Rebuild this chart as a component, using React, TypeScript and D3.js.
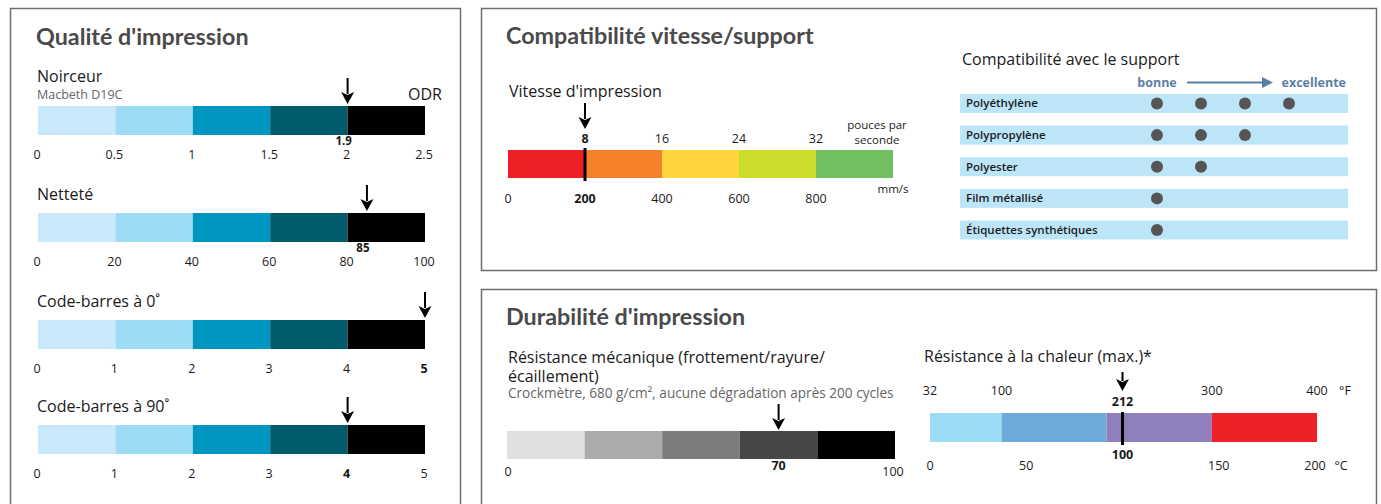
import React from "react";
import * as d3 from "d3";

// ---------- DATA ----------
const qualityMetrics = ["Noirceur", "Netteté", "Code-barres à 0˚", "Code-barres à 90˚"];
const qualityMax = [2.5, 100, 5, 5];
const qualityTicks = [
  [0, 0.5, 1, 1.5, 2, 2.5],
  [0, 20, 40, 60, 80, 100],
  [0, 1, 2, 3, 4, 5],
  [0, 1, 2, 3, 4, 5],
];
const qualityMarkerPos = [2, 85, 5, 4];
const qualityMarkerLabel = ["1.9", "85", "5", "4"];
const qualityColors = ["#c7e9f9", "#9edcf6", "#0096c1", "#025a6d", "#000000"];

const speedBreaksMm = [0, 200, 400, 600, 800, 1000];
const speedColors = ["#ee1f26", "#f5812a", "#fed43e", "#cbdc2b", "#73bf63"];
const speedTicksMm = [0, 200, 400, 600, 800];
const speedTicksIps = [8, 16, 24, 32];
const speedMarkerMm = 200;

const mediaNames = ["Polyéthylène", "Polypropylène", "Polyester", "Film métallisé", "Étiquettes synthétiques"];
const mediaScores = [4, 3, 2, 1, 1];

const mechBreaks = [0, 20, 40, 60, 80, 100];
const mechColors = ["#e0e0e0", "#acacac", "#7c7c7c", "#474747", "#000000"];
const mechTicks = [0, 100];
const mechMarker = 70;

const heatBreaksF = [32, 100, 200, 300, 400];
const heatColors = ["#9ddcf6", "#70aad9", "#8f7fba", "#ee2028"];
const heatTicksF = [32, 100, 300, 400];
const heatTicksC = [0, 50, 150, 200];
const heatMarkerC = 100;
const heatMarkerF = 212;

// ---------- STYLE ----------
const FONT = "'Open Sans', sans-serif";
const TITLE_FONT = "Lato, 'Open Sans', sans-serif";
const TITLE_COLOR = "#4a4a4a";
const TEXT = "#1a1a1a";
const BORDER = "#6e6e6e";

function Arrow({ x, y1, y2, color = "#000", head = 12, w = 13 }: any) {
  return (
    <g>
      <line x1={x} x2={x} y1={y1} y2={y2 - head + 2} stroke={color} strokeWidth={2} />
      <path d={`M${x - w / 2},${y2 - head} L${x},${y2 - head + 3} L${x + w / 2},${y2 - head} L${x},${y2} Z`} fill={color} />
    </g>
  );
}

function QualityPanel() {
  const x0 = 38, x1 = 425;
  const barTops = [106, 213, 320, 425];
  const barH = 29;
  return (
    <g>
      <text x={36} y={45} fontFamily={TITLE_FONT} fontWeight={700} fontSize={23.3} fill={TITLE_COLOR}>
        Qualité d'impression
      </text>
      {qualityMetrics.map((name, i) => {
        const max = qualityMax[i];
        const sc = d3.scaleLinear().domain([0, max]).range([x0, x1]);
        const top = barTops[i];
        const step = max / 5;
        const segs = d3.range(5).map((k) => [k * step, (k + 1) * step]);
        const mx = sc(qualityMarkerPos[i]);
        const lbl = qualityMarkerLabel[i];
        const lblIsTick = qualityTicks[i].some((t) => String(t) === lbl);
        return (
          <g key={name}>
            <text x={37} y={top - 13 - (i === 0 ? 11 : 0)} fontFamily={FONT} fontSize={16} fill={TEXT}>
              {name}
            </text>
            {i === 0 && (
              <>
                <text x={37} y={top - 7} fontFamily={FONT} fontSize={12.5} fill="#666">
                  Macbeth D19C
                </text>
                <text x={442} y={top - 6} textAnchor="end" fontFamily={FONT} fontSize={16} fill={TEXT}>
                  ODR
                </text>
              </>
            )}
            {segs.map((s, k) => (
              <rect key={k} x={sc(s[0])} y={top} width={sc(s[1]) - sc(s[0])} height={barH} fill={qualityColors[k]} />
            ))}
            <Arrow x={mx} y1={top - 28} y2={top - 2} />
            {!lblIsTick && (
              <text x={mx - 4} y={top + barH + 10} textAnchor="middle" fontFamily={FONT} fontWeight={700} fontSize={11.5} fill={TEXT}>
                {lbl}
              </text>
            )}
            {qualityTicks[i].map((t) => (
              <text
                key={t}
                x={sc(t) - 1}
                y={top + barH + 24}
                textAnchor="middle"
                fontFamily={FONT}
                fontSize={12.5}
                fontWeight={String(t) === lbl ? 700 : 400}
                fill={TEXT}
              >
                {t}
              </text>
            ))}
          </g>
        );
      })}
    </g>
  );
}

function SpeedPanel() {
  const sc = d3.scaleLinear().domain([0, 1000]).range([508, 893]);
  const top = 150, h = 28;
  const mx = sc(speedMarkerMm);
  return (
    <g>
      <text x={506} y={44} fontFamily={TITLE_FONT} fontWeight={700} fontSize={23.3} fill={TITLE_COLOR}>
        Compatibilité vitesse/support
      </text>
      <text x={509} y={97} fontFamily={FONT} fontSize={16} fill={TEXT}>
        Vitesse d'impression
      </text>
      {speedColors.map((c, k) => (
        <rect key={k} x={sc(speedBreaksMm[k])} y={top} width={sc(speedBreaksMm[k + 1]) - sc(speedBreaksMm[k])} height={h} fill={c} />
      ))}
      <line x1={mx} x2={mx} y1={top - 2} y2={top + h + 3} stroke="#000" strokeWidth={3} />
      <Arrow x={mx} y1={103} y2={129} />
      {speedTicksIps.map((t, k) => (
        <text key={t} x={sc(t * 25)} y={143} textAnchor="middle" fontFamily={FONT} fontSize={12.5} fontWeight={k === 0 ? 700 : 400} fill={TEXT}>
          {t}
        </text>
      ))}
      <text x={877} y={129} textAnchor="middle" fontFamily={FONT} fontSize={11.5} fill={TEXT}>pouces par</text>
      <text x={877} y={144} textAnchor="middle" fontFamily={FONT} fontSize={11.5} fill={TEXT}>seconde</text>
      {speedTicksMm.map((t) => (
        <text key={t} x={sc(t)} y={203} textAnchor="middle" fontFamily={FONT} fontSize={12.5} fontWeight={t === speedMarkerMm ? 700 : 400} fill={TEXT}>
          {t}
        </text>
      ))}
      <text x={893} y={193} textAnchor="middle" fontFamily={FONT} fontSize={11.5} fill={TEXT}>mm/s</text>
    </g>
  );
}

function MediaPanel() {
  const band = d3.scaleBand().domain(mediaNames).range([94, 239.5]).paddingInner(0.4).paddingOuter(0);
  const dotX = d3.scaleLinear().domain([1, 4]).range([1157, 1289]);
  const arrowColor = "#5b7fa3";
  return (
    <g>
      <text x={962} y={65} fontFamily={FONT} fontSize={16} fill={TEXT}>
        Compatibilité avec le support
      </text>
      <text x={1157} y={87} textAnchor="middle" fontFamily={FONT} fontWeight={700} fontSize={12.5} fill={arrowColor}>bonne</text>
      <line x1={1187} x2={1264} y1={82.5} y2={82.5} stroke={arrowColor} strokeWidth={2} />
      <path d="M1262,77 L1273,82.5 L1262,88 Z" fill={arrowColor} />
      <text x={1346} y={87} textAnchor="end" fontFamily={FONT} fontWeight={700} fontSize={12.5} fill={arrowColor}>excellente</text>
      {mediaNames.map((n, i) => {
        const y = band(n)!;
        const bh = band.bandwidth();
        return (
          <g key={n}>
            <rect x={960} y={y} width={388} height={bh} fill="#bde5f8" />
            <text x={966} y={y + bh / 2 + 4} fontFamily={FONT} fontWeight={600} fontSize={11.5} fill={TEXT}>
              {n}
            </text>
            {d3.range(1, mediaScores[i] + 1).map((s) => (
              <circle key={s} cx={dotX(s)} cy={y + bh / 2} r={6} fill="#555555" />
            ))}
          </g>
        );
      })}
    </g>
  );
}

function DurabilityPanel() {
  const sc = d3.scaleLinear().domain([0, 100]).range([507, 895]);
  const top = 431, h = 28;
  const fsc = d3.scaleLinear().domain([32, 400]).range([930, 1317]);
  const csc = d3.scaleLinear().domain([0, 200]).range([930, 1315]);
  const htop = 413, hh = 29;
  const hx = csc(heatMarkerC);
  return (
    <g>
      <text x={506} y={325} fontFamily={TITLE_FONT} fontWeight={700} fontSize={23.3} fill={TITLE_COLOR}>
        Durabilité d'impression
      </text>
      <text x={508} y={363} fontFamily={FONT} fontSize={16} fill={TEXT}>
        Résistance mécanique (frottement/rayure/
      </text>
      <text x={508} y={382} fontFamily={FONT} fontSize={16} fill={TEXT}>
        écaillement)
      </text>
      <text x={508} y={398} fontFamily={FONT} fontSize={13.6} fill="#666">
        Crockmètre, 680 g/cm², aucune dégradation après 200 cycles
      </text>
      {mechColors.map((c, k) => (
        <rect key={k} x={sc(mechBreaks[k])} y={top} width={sc(mechBreaks[k + 1]) - sc(mechBreaks[k])} height={h} fill={c} />
      ))}
      <Arrow x={sc(mechMarker)} y1={404} y2={430} />
      {mechTicks.map((t) => (
        <text key={t} x={t === 0 ? sc(t) + 1 : sc(t) - 2} y={476} textAnchor="middle" fontFamily={FONT} fontSize={12.5} fill={TEXT}>
          {t}
        </text>
      ))}
      <text x={sc(mechMarker)} y={470} textAnchor="middle" fontFamily={FONT} fontWeight={700} fontSize={12.5} fill={TEXT}>
        {mechMarker}
      </text>

      <text x={924} y={362} fontFamily={FONT} fontSize={16} fill={TEXT}>
        Résistance à la chaleur (max.)*
      </text>
      {heatColors.map((c, k) => (
        <rect key={k} x={fsc(heatBreaksF[k])} y={htop} width={fsc(heatBreaksF[k + 1]) - fsc(heatBreaksF[k])} height={hh} fill={c} />
      ))}
      <line x1={hx} x2={hx} y1={htop - 1} y2={htop + hh + 3} stroke="#000" strokeWidth={3} />
      <Arrow x={hx} y1={372} y2={391} />
      {heatTicksF.map((t) => (
        <text key={t} x={fsc(t)} y={395} textAnchor="middle" fontFamily={FONT} fontSize={12.5} fill={TEXT}>
          {t}
        </text>
      ))}
      <text x={hx} y={406} textAnchor="middle" fontFamily={FONT} fontWeight={700} fontSize={12.5} fill={TEXT}>{heatMarkerF}</text>
      <text x={1345} y={395} textAnchor="middle" fontFamily={FONT} fontSize={12.5} fill={TEXT}>°F</text>
      {heatTicksC.map((t) => (
        <text key={t} x={csc(t)} y={470} textAnchor="middle" fontFamily={FONT} fontSize={12.5} fill={TEXT}>
          {t}
        </text>
      ))}
      <text x={hx} y={459} textAnchor="middle" fontFamily={FONT} fontWeight={700} fontSize={12.5} fill={TEXT}>{heatMarkerC}</text>
      <text x={1341} y={470} textAnchor="middle" fontFamily={FONT} fontSize={12.5} fill={TEXT}>°C</text>
    </g>
  );
}

export default function App() {
  return (
    <svg width={1381} height={504} style={{ position: "absolute", left: 0, top: 0, background: "#fff" }}>
      <rect x={0} y={0} width={1381} height={504} fill="#fff" />
      <rect x={10.5} y={8.5} width={450} height={520} fill="none" stroke={BORDER} strokeWidth={1.5} />
      <rect x={481.5} y={8.5} width={895} height={262} fill="none" stroke={BORDER} strokeWidth={1.5} />
      <rect x={481.5} y={289.5} width={895} height={240} fill="none" stroke={BORDER} strokeWidth={1.5} />
      <QualityPanel />
      <SpeedPanel />
      <MediaPanel />
      <DurabilityPanel />
    </svg>
  );
}
